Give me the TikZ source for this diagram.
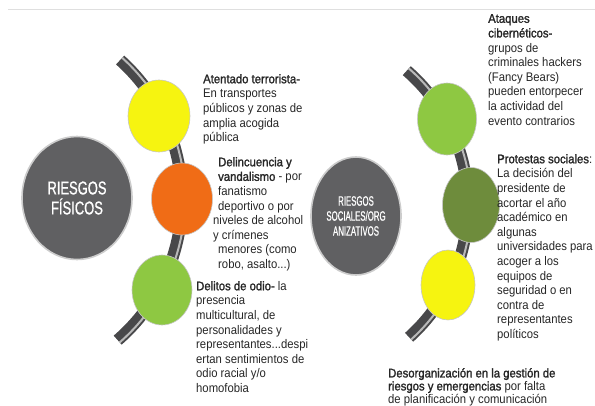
\documentclass[tikz,border=0pt]{standalone}
\usepackage{fontspec}
\setmainfont{Liberation Sans}
\newfontfamily\cuerpo[FakeStretch=0.905,BoldFont={Liberation Sans},BoldFeatures={FakeBold=1.6}]{Liberation Sans}
\newfontfamily\estrecha[FakeStretch=0.70,FakeBold=0.8]{Liberation Sans}
\newfontfamily\muyestrecha[FakeStretch=0.58,FakeBold=0.6]{Liberation Sans}
\usetikzlibrary{shapes.geometric}
\definecolor{grisbola}{RGB}{96,96,98}
\definecolor{grisbanda}{RGB}{72,72,74}
\definecolor{amarillo}{RGB}{246,244,16}
\definecolor{naranja}{RGB}{240,108,22}
\definecolor{verde}{RGB}{142,200,66}
\definecolor{oliva}{RGB}{110,140,60}
\tikzset{
riesgo/.style={
  ellipse,
  fill=grisbola,
  draw=gray!40,
  line width=1.6pt,
  text=white,
  align=center,
  inner sep=0pt
  },
bola/.style={ellipse,draw=white!55!gray,line width=0.6pt,inner sep=0pt},
texto/.style={anchor=north west,align=left,inner sep=0pt,
  font=\cuerpo\fontsize{12.5}{14.6}\selectfont,text=black!85},
banda/.style={line width=12pt,draw=grisbanda},
brillo/.style={line width=2pt,draw=gray!55}
}

\begin{document}
\begin{tikzpicture}[x=1pt,y=-1pt]
    \useasboundingbox (0,0) rectangle (595,405);
    \clip (0,0) rectangle (595,405);
    \draw [gray!25,line width=0.6pt] (8,9) -- (595,9);

    % bandas curvas detras de las bolas
    \coordinate (ejeI) at (-5,199);
    \coordinate (ejeD) at (290,205);
    \draw [banda] (ejeI) ++(-48:187) arc (-48:49:187);
    \draw [brillo] (ejeI) ++(-48:190) arc (-48:49:190);
    \draw [banda] (ejeD) ++(-49:178) arc (-49:48:178);
    \draw [brillo] (ejeD) ++(-49:181) arc (-49:48:181);

    \node [riesgo,minimum width=110,minimum height=123,
      font=\estrecha\fontsize{18.5}{20}\selectfont] (fisicos) at (77,198) {RIESGOS\\FÍSICOS};
    \node [riesgo,minimum width=90,minimum height=118,
      font=\muyestrecha\fontsize{13.5}{15}\selectfont] (sociales) at (356,216) {RIESGOS\\SOCIALES/ORG\\ANIZATIVOS};

    \node [bola,fill=amarillo,minimum width=62,minimum height=72] (atentado) at (159,116) {};
    \node [bola,fill=naranja,minimum width=61,minimum height=72] (delincuencia) at (182,199) {};
    \node [bola,fill=verde,minimum width=60,minimum height=70] (odio) at (162,290) {};
    \node [bola,fill=verde,minimum width=59,minimum height=72] (ataques) at (447,119) {};
    \node [bola,fill=oliva,minimum width=57,minimum height=75] (protestas) at (471,205) {};
    \node [bola,fill=amarillo,minimum width=54,minimum height=70] (desorg) at (448,285) {};

    \node [texto] (tatentado) at (203,74) {\textbf{Atentado terrorista-}\\En transportes\\públicos y zonas de\\amplia acogida\\pública};
    \node [texto] (tdelincuencia) at (218,157) {\textbf{Delincuencia y}\\\textbf{vandalismo} - por\\fanatismo\\deportivo o por\\\hspace*{-5pt}niveles de alcohol\\\hspace*{-5pt}y crímenes\\menores (como\\robo, asalto...)};
    \node [texto] (todio) at (196,281) {\textbf{Delitos de odio-} la\\presencia\\multicultural, de\\personalidades y\\representantes...despi\\ertan sentimientos de\\odio racial y/o\\homofobia};
    \node [texto] (tataques) at (488,14) {\textbf{Ataques}\\\textbf{cibernéticos-}\\grupos de\\criminales hackers\\(Fancy Bears)\\pueden entorpecer\\la actividad del\\evento contrarios};
    \node [texto] (tprotestas) at (497,154) {\textbf{Protestas sociales}:\\La decisión del\\presidente de\\acortar el año\\académico en\\algunas\\universidades para\\acoger a los\\equipos de\\seguridad o en\\contra de\\representantes\\políticos};
    \node [texto,font=\cuerpo\fontsize{12.5}{13}\selectfont] (tdesorg) at (388,368) {\textbf{Desorganización en la gestión de}\\\textbf{riesgos y emergencias} por falta\\de planificación y comunicación};
\end{tikzpicture}
\end{document}
